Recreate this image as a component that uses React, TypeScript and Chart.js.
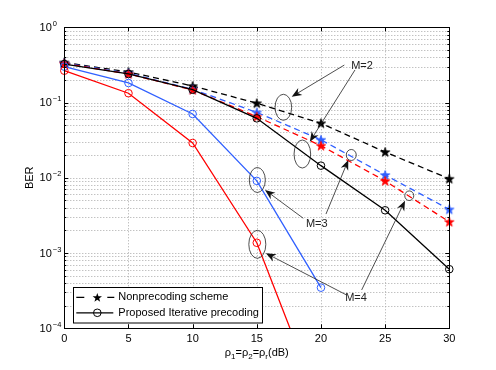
import React, { useEffect, useRef } from 'react';
import { Chart, registerables } from 'chart.js';

Chart.register(...registerables);

// ---------- data ----------
const snrDb = [0, 5, 10, 15, 20, 25, 30];
const nonprecodingM2 = [0.34, 0.255, 0.166, 0.098, 0.053, 0.022, 0.0097];
const nonprecodingM3 = [0.335, 0.245, 0.15, 0.074, 0.032, 0.0109, 0.0038];
const nonprecodingM4 = [0.33, 0.24, 0.147, 0.065, 0.0267, 0.0091, 0.0026];
const proposedM2 = [0.325, 0.24, 0.148, 0.0617, 0.0145, 0.0037, 0.00061];
const proposedM3 = [0.3, 0.182, 0.0705, 0.0091, 0.000347];
const proposedM4 = [0.265, 0.133, 0.029, 0.00137, 0.0000087];

const xTicks = [0, 5, 10, 15, 20, 25, 30];
const yDecadeExponents = [0, -1, -2, -3, -4];
const legendLabels = ['Nonprecoding scheme', 'Proposed Iterative precoding'];
const axisYLabel = 'BER';

// annotation anchors in data units [dB, BER]
const annotationTexts = ['M=2', 'M=3', 'M=4'];
const annotationTextAt = [[23.2, 0.306], [19.67, 0.00243], [22.73, 0.000251]];
const ellipseCenters = [[17.07, 0.0865], [18.55, 0.0207], [15.04, 0.00935], [22.36, 0.0201], [15.04, 0.001306], [26.88, 0.00578]];
const arrowFrom = [[21.82, 0.315], [22.65, 0.271], [18.62, 0.0029], [20.39, 0.0033], [22.0, 0.000277], [23.17, 0.000323]];
const arrowTo = [[17.72, 0.1197], [19.13, 0.0302], [15.64, 0.00689], [22.13, 0.01725], [15.71, 0.000993], [26.55, 0.00496]];

// ---------- styles ----------
const FONT = '"Liberation Sans", Arial, Helvetica, sans-serif';
const RED = '#ff0000';
const BLUE = '#3060ff';
const BLACK = '#000000';
const ellipseRadii = [[8.3, 13], [8.3, 14], [8, 12.5], [5, 5.5], [8.5, 14], [4.5, 4.8]];
const STAR_R = 4.9;
const STAR_RI = 1.95;

function drawStarPath(g: CanvasRenderingContext2D, cx: number, cy: number, ro: number, ri: number) {
  g.beginPath();
  for (let i = 0; i < 10; i++) {
    const r = i % 2 === 0 ? ro : ri;
    const a = -Math.PI / 2 + (i * Math.PI) / 5;
    const px = cx + r * Math.cos(a);
    const py = cy + r * Math.sin(a);
    if (i === 0) g.moveTo(px, py);
    else g.lineTo(px, py);
  }
  g.closePath();
}

function makeStar(color: string): HTMLCanvasElement {
  const c = document.createElement('canvas');
  c.width = 12;
  c.height = 12;
  const g = c.getContext('2d')!;
  drawStarPath(g, 6, 6.4, STAR_R, STAR_RI);
  g.fillStyle = color;
  g.fill();
  g.strokeStyle = color;
  g.lineWidth = 0.8;
  g.stroke();
  return c;
}

function toPts(vals: number[]) {
  return vals.map((v, i) => ({ x: snrDb[i], y: v }));
}

const decorPlugin = {
  id: 'matlabDecor',
  beforeDatasetsDraw(chart: any) {
    const { ctx, chartArea, scales } = chart;
    const { left, right, top, bottom } = chartArea;
    const x = scales.x;
    const y = scales.y;
    ctx.save();
    ctx.strokeStyle = '#a8a8a8';
    ctx.lineWidth = 1;
    ctx.setLineDash([1, 2]);
    for (const t of xTicks) {
      const px = Math.round(x.getPixelForValue(t)) + 0.5;
      ctx.beginPath();
      ctx.moveTo(px, top);
      ctx.lineTo(px, bottom);
      ctx.stroke();
    }
    for (const e of yDecadeExponents) {
      for (let m = 1; m <= 9; m++) {
        const v = m * Math.pow(10, e);
        if (v > 1.0000001 || v < 0.99e-4) continue;
        const py = Math.round(y.getPixelForValue(v)) + 0.5;
        ctx.beginPath();
        ctx.moveTo(left, py);
        ctx.lineTo(right, py);
        ctx.stroke();
      }
    }
    ctx.restore();
  },
  afterDatasetsDraw(chart: any) {
    const { ctx, chartArea, scales } = chart;
    const { left, right, top, bottom } = chartArea;
    const x = scales.x;
    const y = scales.y;
    ctx.save();
    ctx.setLineDash([]);
    // box
    ctx.strokeStyle = '#000';
    ctx.lineWidth = 1;
    ctx.strokeRect(Math.round(left) + 0.5, Math.round(top) + 0.5, Math.round(right - left), Math.round(bottom - top));
    // tick marks
    ctx.beginPath();
    for (const t of xTicks) {
      const px = Math.round(x.getPixelForValue(t)) + 0.5;
      ctx.moveTo(px, bottom);
      ctx.lineTo(px, bottom - 4);
      ctx.moveTo(px, top);
      ctx.lineTo(px, top + 4);
    }
    for (const e of yDecadeExponents) {
      for (let m = 1; m <= 9; m++) {
        const v = m * Math.pow(10, e);
        if (v > 1.0000001 || v < 0.99e-4) continue;
        const py = Math.round(y.getPixelForValue(v)) + 0.5;
        const len = m === 1 ? 4 : 2;
        ctx.moveTo(left, py);
        ctx.lineTo(left + len, py);
        ctx.moveTo(right, py);
        ctx.lineTo(right - len, py);
      }
    }
    ctx.stroke();

    // x tick labels
    ctx.fillStyle = '#000';
    ctx.font = `11px ${FONT}`;
    ctx.textAlign = 'center';
    ctx.textBaseline = 'middle';
    for (const t of xTicks) {
      ctx.fillText(String(t), x.getPixelForValue(t), bottom + 10.5);
    }
    // y tick labels 10^e
    for (const e of yDecadeExponents) {
      const py = y.getPixelForValue(Math.pow(10, e));
      ctx.font = `11px ${FONT}`;
      ctx.textAlign = 'right';
      ctx.textBaseline = 'middle';
      ctx.fillText('10', left - 12.5, py + 0.5);
      ctx.font = `7.5px ${FONT}`;
      ctx.textAlign = 'left';
      ctx.textBaseline = 'alphabetic';
      ctx.fillText(e === 0 ? '0' : '\u2212' + String(-e), left - 11.5, py - 1.5);
    }
    // y axis label
    ctx.save();
    ctx.translate(30, (top + bottom) / 2);
    ctx.rotate(-Math.PI / 2);
    ctx.font = `11px ${FONT}`;
    ctx.textAlign = 'center';
    ctx.textBaseline = 'middle';
    ctx.fillText(axisYLabel, 0, 0);
    ctx.restore();
    // x axis label with subscripts
    const parts: [string, boolean][] = [
      ['\u03C1', false], ['1', true], ['=\u03C1', false], ['2', true], ['=\u03C1', false], ['r', true], ['(dB)', false],
    ];
    const mainFont = `11px ${FONT}`;
    const subFont = `8px ${FONT}`;
    let total = 0;
    for (const [s, sub] of parts) {
      ctx.font = sub ? subFont : mainFont;
      total += ctx.measureText(s).width;
    }
    let cx = (left + right) / 2 - total / 2;
    const base = bottom + 27.5;
    ctx.textAlign = 'left';
    ctx.textBaseline = 'alphabetic';
    for (const [s, sub] of parts) {
      ctx.font = sub ? subFont : mainFont;
      ctx.fillText(s, cx, sub ? base + 3 : base);
      cx += ctx.measureText(s).width;
    }

    // annotations
    ctx.strokeStyle = '#222';
    ctx.fillStyle = '#111';
    ctx.lineWidth = 0.8;
    ellipseCenters.forEach(([ex, ey], i) => {
      const px = x.getPixelForValue(ex);
      const py = y.getPixelForValue(ey);
      ctx.beginPath();
      ctx.ellipse(px, py, ellipseRadii[i][0], ellipseRadii[i][1], 0, 0, Math.PI * 2);
      ctx.stroke();
    });
    arrowFrom.forEach(([fx, fy], i) => {
      const x1 = x.getPixelForValue(fx);
      const y1 = y.getPixelForValue(fy);
      const x2 = x.getPixelForValue(arrowTo[i][0]);
      const y2 = y.getPixelForValue(arrowTo[i][1]);
      const ang = Math.atan2(y2 - y1, x2 - x1);
      const L = 10;
      const W = 4;
      ctx.beginPath();
      ctx.moveTo(x1, y1);
      ctx.lineTo(x2 - Math.cos(ang) * 6, y2 - Math.sin(ang) * 6);
      ctx.stroke();
      const bx = x2 - Math.cos(ang) * L;
      const by = y2 - Math.sin(ang) * L;
      const nx = -Math.sin(ang);
      const ny = Math.cos(ang);
      ctx.beginPath();
      ctx.moveTo(x2, y2);
      ctx.lineTo(bx + nx * W, by + ny * W);
      ctx.lineTo(x2 - Math.cos(ang) * 7, y2 - Math.sin(ang) * 7);
      ctx.lineTo(bx - nx * W, by - ny * W);
      ctx.closePath();
      ctx.fill();
    });
    ctx.font = `11px ${FONT}`;
    ctx.fillStyle = '#222';
    ctx.textAlign = 'center';
    ctx.textBaseline = 'middle';
    annotationTexts.forEach((t, i) => {
      ctx.fillText(t, x.getPixelForValue(annotationTextAt[i][0]), y.getPixelForValue(annotationTextAt[i][1]));
    });

    // legend
    const lx = left + 9;
    const ly = bottom - 41.5;
    const lw = 189;
    const lh = 35.5;
    ctx.fillStyle = '#fff';
    ctx.fillRect(lx, ly, lw, lh);
    ctx.strokeStyle = '#000';
    ctx.lineWidth = 1;
    ctx.strokeRect(Math.round(lx) + 0.5, Math.round(ly) + 0.5, lw, lh);
    const r1 = ly + 10.5;
    const r2 = ly + 26;
    const sx0 = lx + 3;
    const sx1 = lx + 40;
    const mx = lx + 24;
    ctx.lineWidth = 1.2;
    ctx.setLineDash([8, 23]);
    ctx.beginPath();
    ctx.moveTo(sx0, r1);
    ctx.lineTo(sx1 + 1, r1);
    ctx.stroke();
    ctx.setLineDash([]);
    drawStarPath(ctx, mx, r1 + 0.5, STAR_R, STAR_RI);
    ctx.fillStyle = '#000';
    ctx.fill();
    ctx.beginPath();
    ctx.moveTo(sx0, r2);
    ctx.lineTo(sx1, r2);
    ctx.stroke();
    ctx.lineWidth = 1;
    ctx.beginPath();
    ctx.arc(mx, r2, 3.8, 0, Math.PI * 2);
    ctx.stroke();
    ctx.fillStyle = '#000';
    ctx.font = `11px ${FONT}`;
    ctx.textAlign = 'left';
    ctx.textBaseline = 'middle';
    ctx.fillText(legendLabels[0], lx + 45, r1);
    ctx.fillText(legendLabels[1], lx + 45, r2);
    ctx.restore();
  },
};

export default function App() {
  const ref = useRef<HTMLCanvasElement>(null);
  useEffect(() => {
    document.body.style.margin = '0';
    const starK = makeStar(BLACK);
    const starB = makeStar(BLUE);
    const starR = makeStar(RED);
    const clip = { left: 8, right: 8, top: 8, bottom: 0 };
    const dashed = (label: string, vals: number[], color: string, star: HTMLCanvasElement) => ({
      label,
      data: toPts(vals),
      borderColor: color,
      backgroundColor: color,
      borderWidth: 1.3,
      borderDash: [6, 4],
      pointStyle: star,
      pointRadius: 5,
      tension: 0,
      clip,
    });
    const solid = (label: string, vals: number[], color: string) => ({
      label,
      data: toPts(vals),
      borderColor: color,
      backgroundColor: 'rgba(0,0,0,0)',
      borderWidth: 1.3,
      pointStyle: 'circle',
      pointRadius: 3.8,
      pointBorderWidth: 1,
      pointBackgroundColor: 'rgba(0,0,0,0)',
      pointBorderColor: color,
      tension: 0,
      clip,
    });
    const chart = new Chart(ref.current!, {
      type: 'line',
      data: {
        datasets: [
          solid('Proposed M=4', proposedM4, RED),
          solid('Proposed M=3', proposedM3, BLUE),
          solid('Proposed M=2', proposedM2, BLACK),
          dashed('Nonprecoding M=4', nonprecodingM4, RED, starR),
          dashed('Nonprecoding M=3', nonprecodingM3, BLUE, starB),
          dashed('Nonprecoding M=2', nonprecodingM2, BLACK, starK),
        ] as any,
      },
      options: {
        responsive: false,
        animation: false,
        devicePixelRatio: 1,
        layout: { padding: { top: 27.3, right: 46.7, left: 0, bottom: 0 } },
        plugins: { legend: { display: false }, tooltip: { enabled: false } },
        scales: {
          x: {
            type: 'linear',
            min: 0,
            max: 30,
            grid: { display: false },
            border: { display: false },
            ticks: { display: false },
            afterFit: (s: any) => {
              s.height = 41.7;
            },
          },
          y: {
            type: 'logarithmic',
            min: 1e-4,
            max: 1,
            grid: { display: false },
            border: { display: false },
            ticks: { display: false },
            afterFit: (s: any) => {
              s.width = 64.3;
            },
          },
        },
      } as any,
      plugins: [decorPlugin],
    });
    return () => chart.destroy();
  }, []);
  return (
    <div style={{ position: 'absolute', left: 0, top: 0, width: 496, height: 370, background: '#fff' }}>
      <canvas ref={ref} width={496} height={370} style={{ width: 496, height: 370, display: 'block' }} />
    </div>
  );
}
